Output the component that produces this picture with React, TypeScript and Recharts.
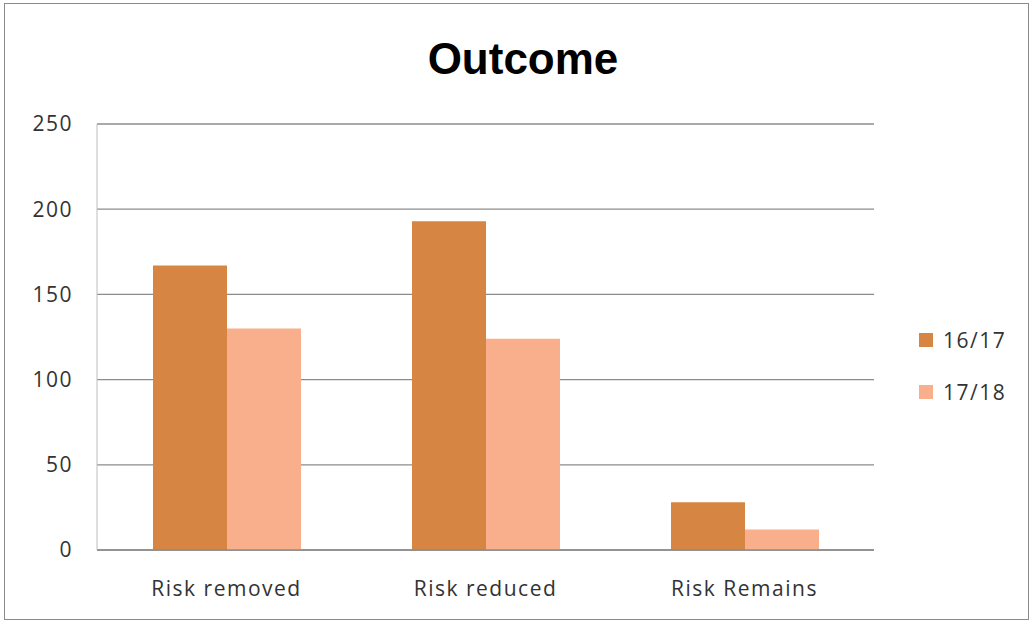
import { BarChart, Bar, XAxis, YAxis, CartesianGrid } from 'recharts';

const categories = ['Risk removed', 'Risk reduced', 'Risk Remains'];
const series1617 = [167, 193, 28];
const series1718 = [130, 124, 12];
const yTicks = [0, 50, 100, 150, 200, 250];

const SERIES = [
  { key: '16/17', values: series1617, color: '#D68543' },
  { key: '17/18', values: series1718, color: '#F9AF8B' },
];

const TEXT_FONT = '"Open Sans", sans-serif';

const data = categories.map((name, i) => {
  const row: Record<string, string | number> = { name };
  SERIES.forEach(s => {
    row[s.key] = s.values[i];
  });
  return row;
});

const tickStyle = {
  fill: '#333333',
  fontSize: 21,
  fontFamily: TEXT_FONT,
  letterSpacing: 1.5,
};

export default function App() {
  return (
    <div
      style={{
        position: 'absolute',
        left: 0,
        top: 0,
        width: 1034,
        height: 624,
        background: '#ffffff',
        overflow: 'hidden',
      }}
    >
      {/* chart frame */}
      <div
        style={{
          position: 'absolute',
          left: 4,
          top: 3,
          width: 1025,
          height: 617,
          border: '1.5px solid #8a8a8a',
          boxSizing: 'border-box',
        }}
      />

      <div
        style={{
          position: 'absolute',
          left: 0,
          top: 34,
          width: 1046,
          textAlign: 'center',
          fontFamily: '"Liberation Sans", Arial, sans-serif',
          fontWeight: 'bold',
          fontSize: 44,
          lineHeight: '50px',
          color: '#000000',
        }}
      >
        Outcome
      </div>

      <div style={{ position: 'absolute', left: 0, top: 0 }}>
        <BarChart
          width={1034}
          height={624}
          data={data}
          margin={{ top: 124, right: 160, bottom: 14, left: 0 }}
          barSize={74}
          barGap={0}
        >
          <CartesianGrid
            vertical={false}
            stroke="#8c8c8c"
            strokeWidth={1.3}
          />
          <XAxis
            dataKey="name"
            height={60}
            tickLine={false}
            tickSize={0}
            tickMargin={31}
            axisLine={{ stroke: '#8c8c8c', strokeWidth: 1.3 }}
            tick={tickStyle}
          />
          <YAxis
            width={97}
            domain={[0, 250]}
            ticks={yTicks}
            interval={0}
            tickLine={false}
            tickSize={0}
            tickMargin={24}
            axisLine={{ stroke: '#bdbdbd', strokeWidth: 1 }}
            tick={tickStyle}
          />
          {SERIES.map(s => (
            <Bar
              key={s.key}
              dataKey={s.key}
              fill={s.color}
              isAnimationActive={false}
            />
          ))}
        </BarChart>
      </div>

      {/* legend */}
      <div style={{ position: 'absolute', left: 919, top: 314 }}>
        {SERIES.map(s => (
          <div
            key={s.key}
            style={{
              display: 'flex',
              alignItems: 'center',
              height: 52,
              fontFamily: TEXT_FONT,
              fontSize: 21,
              letterSpacing: 1.5,
              color: '#333333',
            }}
          >
            <span
              style={{
                display: 'inline-block',
                width: 14,
                height: 14,
                background: s.color,
                marginRight: 10,
              }}
            />
            {s.key}
          </div>
        ))}
      </div>
    </div>
  );
}
